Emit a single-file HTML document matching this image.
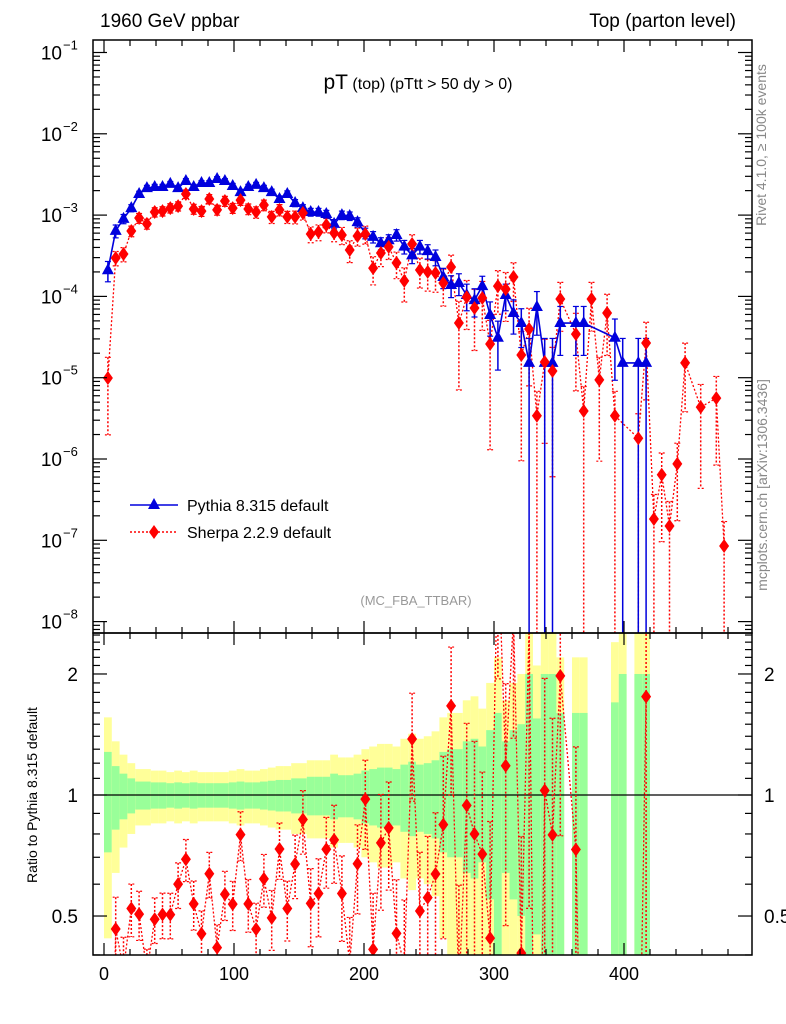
<!DOCTYPE html>
<html><head><meta charset="utf-8">
<style>
html,body{margin:0;padding:0;background:#fff;overflow:hidden;width:786px;height:1024px;}
svg{display:block;font-family:"Liberation Sans",Arial,sans-serif;}
</style></head>
<body>
<svg id="chart" width="786" height="1024" viewBox="0 0 786 1024" xmlns="http://www.w3.org/2000/svg">
<defs>
<clipPath id="cm"><rect x="93" y="40" width="659" height="593"/></clipPath>
<clipPath id="cr"><rect x="93" y="633" width="659" height="322"/></clipPath>
</defs>
<text x="100" y="27" font-size="19">1960 GeV ppbar</text>
<text x="736" y="27" font-size="19" text-anchor="end">Top (parton level)</text>
<text x="418" y="89" text-anchor="middle"><tspan font-size="21">pT</tspan><tspan font-size="16"> (top) </tspan><tspan font-size="16"> (pTtt &gt; 50 dy &gt; 0)</tspan></text>
<text x="416" y="605" font-size="13" fill="#999" text-anchor="middle">(MC_FBA_TTBAR)</text>
<text transform="translate(766,145) rotate(-90)" font-size="14" fill="#888" text-anchor="middle">Rivet 4.1.0, ≥ 100k events</text>
<text transform="translate(767,485) rotate(-90)" font-size="14" fill="#888" text-anchor="middle">mcplots.cern.ch [arXiv:1306.3436]</text>
<text transform="translate(37,795) rotate(-90)" font-size="14" text-anchor="middle">Ratio to Pythia 8.315 default</text>
<g id="bands" clip-path="url(#cr)"></g>
<g id="main" clip-path="url(#cm)"></g>
<g id="ratio" clip-path="url(#cr)"></g>
<g id="axes"></g>
<g>
<line x1="130" y1="505" x2="178" y2="505" stroke="#0000dd" stroke-width="1.5"/>
<polygon points="154,498 160,509 148,509" fill="#0000dd"/>
<text x="187" y="511" font-size="16">Pythia 8.315 default</text>
<line x1="130" y1="532" x2="178" y2="532" stroke="#ff0000" stroke-width="1.5" stroke-dasharray="2,2"/>
<polygon points="154,525 159,532 154,539 149,532" fill="#ff0000"/>
<text x="187" y="538" font-size="16">Sherpa 2.2.9 default</text>
</g>
</svg>
<script>
// ---- data ----
const pythiaBins = [0,1,2,3,4,5,6,7,8,9,10,11,12,13,14,15,16,17,18,19,20,21,22,23,24,25,26,27,28,29,30,31,32,33,34,35,36,37,38,39,40,41,42,43,44,45,46,47,48,49,50,51,52,53,54,55,56,57,58,60,61,65,66,68,69];
const pythiaVals = [2.1e-4,6.4e-4,9.0e-4,1.22e-3,1.82e-3,2.15e-3,2.22e-3,2.22e-3,2.42e-3,2.15e-3,2.63e-3,2.22e-3,2.48e-3,2.48e-3,2.78e-3,2.63e-3,2.28e-3,1.92e-3,2.22e-3,2.35e-3,2.15e-3,1.92e-3,1.58e-3,1.82e-3,1.41e-3,1.22e-3,1.09e-3,1.09e-3,1.03e-3,7.8e-4,1.0e-3,9.75e-4,8.2e-4,6.0e-4,5.4e-4,4.5e-4,4.9e-4,5.7e-4,4.1e-4,3.2e-4,4.1e-4,3.6e-4,3.05e-4,1.73e-4,1.38e-4,1.46e-4,1.04e-4,9.0e-5,1.34e-4,5.9e-5,3.1e-5,1.04e-4,6.25e-5,4.7e-5,1.52e-5,7.4e-5,1.52e-5,1.52e-5,4.7e-5,4.7e-5,4.7e-5,3.1e-5,1.52e-5,1.52e-5,1.52e-5];
const pythiaErr = [0.28,0.18,0.13,0.1,0.08,0.08,0.075,0.075,0.07,0.075,0.07,0.075,0.07,0.07,0.07,0.07,0.075,0.08,0.075,0.075,0.08,0.085,0.09,0.09,0.1,0.1,0.11,0.11,0.11,0.13,0.12,0.12,0.13,0.15,0.16,0.17,0.17,0.16,0.19,0.21,0.19,0.2,0.22,0.28,0.3,0.3,0.36,0.38,0.32,0.45,0.6,0.36,0.45,0.5,1,0.55,1,1,0.6,0.6,0.6,0.7,1,1,1];
const sherpaBins = [0,1,2,3,4,5,6,7,8,9,10,11,12,13,14,15,16,17,18,19,20,21,22,23,24,25,26,27,28,29,30,31,32,33,34,35,36,37,38,39,40,41,42,43,44,45,46,47,48,49,50,51,52,53,54,55,56,57,58,60,61,62,63,64,65,68,69,70,71,72,73,74,76,78,79];
const sherpaVals = [9.9e-6,2.97e-4,3.32e-4,6.37e-4,9.2e-4,7.8e-4,1.09e-3,1.12e-3,1.22e-3,1.29e-3,1.82e-3,1.19e-3,1.12e-3,1.58e-3,1.16e-3,1.49e-3,1.22e-3,1.53e-3,1.19e-3,1.09e-3,1.33e-3,9.5e-4,1.16e-3,9.5e-4,9.5e-4,1.06e-3,5.86e-4,6.2e-4,7.55e-4,6.03e-4,5.69e-4,3.72e-4,5.53e-4,5.86e-4,2.23e-4,3.42e-4,4.06e-4,2.58e-4,1.55e-4,4.41e-4,2.11e-4,2.0e-4,1.94e-4,1.46e-4,2.3e-4,4.71e-5,9.8e-5,7.2e-5,9.55e-5,2.6e-5,1.34e-4,1.23e-4,1.73e-4,1.9e-5,3.97e-5,3.4e-6,1.56e-5,1.21e-5,9.3e-5,3.44e-5,3.9e-6,9.3e-5,9.4e-6,6.25e-5,3.4e-6,1.8e-6,2.67e-5,1.83e-7,6.4e-7,1.5e-7,8.7e-7,1.52e-5,4.35e-6,5.6e-6,8.5e-8];
const sherpaErr = [0.8,0.2,0.2,0.15,0.14,0.14,0.13,0.13,0.13,0.13,0.12,0.14,0.14,0.13,0.14,0.14,0.14,0.14,0.15,0.16,0.15,0.17,0.16,0.17,0.18,0.18,0.22,0.22,0.2,0.22,0.24,0.3,0.25,0.25,0.38,0.32,0.3,0.36,0.45,0.3,0.4,0.42,0.42,0.48,0.4,0.85,0.6,0.7,0.6,0.95,0.55,0.6,0.5,0.95,0.8,1,0.9,0.95,0.6,0.8,1,0.6,0.9,0.7,1,1,0.8,1,0.85,1,0.8,0.75,0.9,0.85,1];
const binWidth = 6;
const xTicks = [0,100,200,300,400];
const mainExps = [-1,-2,-3,-4,-5,-6,-7,-8];
const ratioTicks = ["0.5","1","2"];

// ---- axis functions ----
const NS = "http://www.w3.org/2000/svg";
const X = v => 104 + 1.30 * v;
const YM = v => 52.5 + 81.3 * (-1 - Math.log10(v));
const YR = r => 795 - 402 * Math.log10(r);
const MAIN_BOT = 633, RAT_TOP = 633, RAT_BOT = 955;
function mk(tag, attrs, parent) {
  const e = document.createElementNS(NS, tag);
  for (const k in attrs) e.setAttribute(k, attrs[k]);
  parent.appendChild(e);
  return e;
}
const gMain = document.getElementById('main');
const gRatio = document.getElementById('ratio');
const gBands = document.getElementById('bands');
const gAxes = document.getElementById('axes');
const cx = b => X(3 + binWidth * b);

// ratio bands
pythiaBins.forEach((b, i) => {
  const e = pythiaErr[i];
  const x0 = X(binWidth * b), x1 = X(binWidth * (b + 1));
  const yTop2 = YR(1 + 2 * e), yBot2 = (1 - 2 * e) > 0.01 ? YR(1 - 2 * e) : RAT_BOT + 5;
  const r1 = mk('rect', {x: x0, y: yTop2, width: x1 - x0, height: yBot2 - yTop2, fill: '#ffff99'}, gBands);
  
  
  const yTop1 = YR(1 + e), yBot1 = (1 - e) > 0.01 ? YR(1 - e) : RAT_BOT + 5;
  const r2 = mk('rect', {x: x0, y: yTop1, width: x1 - x0, height: yBot1 - yTop1, fill: '#99ff99'}, gBands);
  
  
});
const one = mk('line', {x1: 93, x2: 752, y1: YR(1), y2: YR(1), stroke: '#000', 'stroke-width': 1.2}, gBands);



function errBar(g, x, y, v, e, color, dashed, yfun, bottom, name) {
  const yHi = yfun(v * (1 + e));
  const yLo = (1 - e) > 0.001 ? yfun(v * (1 - e)) : bottom + 5;
  const a = {x1: x, x2: x, y1: yHi, y2: yLo, stroke: color, 'stroke-width': 1.5};
  if (dashed) a['stroke-dasharray'] = '2,2';
  const l = mk('line', a, g);
  
  
  [yHi, yLo].forEach(yy => {
    const c = {x1: x - 3, x2: x + 3, y1: yy, y2: yy, stroke: color, 'stroke-width': 1.2};
    if (dashed) c['stroke-dasharray'] = '2,2';
    const t = mk('line', c, g);
    
    
  });
}
function tri(g, x, y, color) {
  const p = mk('polygon', {points: `${x},${y-7} ${x+6},${y+4} ${x-6},${y+4}`, fill: color}, g);
  
  
}
function dia(g, x, y, color, name) {
  const p = mk('polygon', {points: `${x},${y-7} ${x+5},${y} ${x},${y+7} ${x-5},${y}`, fill: color}, g);
  
  
}

// Sherpa main
let sp = sherpaBins.map((b, i) => `${cx(b)},${YM(sherpaVals[i])}`).join(' ');
const sl = mk('polyline', {points: sp, fill: 'none', stroke: '#ff0000', 'stroke-width': 1.3, 'stroke-dasharray': '2,2'}, gMain);


sherpaBins.forEach((b, i) => errBar(gMain, cx(b), YM(sherpaVals[i]), sherpaVals[i], sherpaErr[i], '#ff0000', true, YM, MAIN_BOT, 'sherpa-error-bar'));
// Pythia main
let pp = pythiaBins.map((b, i) => `${cx(b)},${YM(pythiaVals[i])}`).join(' ');
const pl = mk('polyline', {points: pp, fill: 'none', stroke: '#0000dd', 'stroke-width': 1.6}, gMain);


pythiaBins.forEach((b, i) => errBar(gMain, cx(b), YM(pythiaVals[i]), pythiaVals[i], pythiaErr[i], '#0000dd', false, YM, MAIN_BOT, 'pythia-error-bar'));
pythiaBins.forEach((b, i) => tri(gMain, cx(b), YM(pythiaVals[i]), '#0000dd'));
sherpaBins.forEach((b, i) => dia(gMain, cx(b), YM(sherpaVals[i]), '#ff0000', 'sherpa-marker'));

// Ratio
const rpts = [];
sherpaBins.forEach((b, i) => {
  const j = pythiaBins.indexOf(b);
  if (j < 0) return;
  rpts.push([b, sherpaVals[i] / pythiaVals[j], sherpaErr[i]]);
});
const rl = mk('polyline', {points: rpts.map(p => `${cx(p[0])},${YR(p[1])}`).join(' '), fill: 'none', stroke: '#ff0000', 'stroke-width': 1.3, 'stroke-dasharray': '2,2'}, gRatio);


rpts.forEach(p => errBar(gRatio, cx(p[0]), YR(p[1]), p[1], p[2], '#ff0000', true, YR, RAT_BOT, 'ratio-error-bar'));
rpts.forEach(p => dia(gRatio, cx(p[0]), YR(p[1]), '#ff0000', 'ratio-sherpa-marker'));

// Frames
[[93, 40, 659, 593, 'main-frame'], [93, 633, 659, 322, 'ratio-frame']].forEach(f => {
  const r = mk('rect', {x: f[0], y: f[1], width: f[2], height: f[3], fill: 'none', stroke: '#000', 'stroke-width': 1.5}, gAxes);
  
  
});
function tick(x1, y1, x2, y2) {
  const t = mk('line', {x1, y1, x2, y2, stroke: '#000', 'stroke-width': 1.2}, gAxes);
  
  
}
// x ticks
for (let v = 0; v <= 480; v += 20) {
  const x = X(v), big = v % 100 === 0, L = big ? 12 : 6;
  [[40, 1], [633, -1], [633, 1], [955, -1]].forEach(([y, d]) => tick(x, y, x, y + d * L));
}
xTicks.forEach(v => {
  const t = mk('text', {x: X(v), y: 980, 'font-size': 18, 'text-anchor': 'middle'}, gAxes);
  t.textContent = v;
  
  
});
// main y ticks
for (let e = -9; e <= -1; e++) {
  for (let m = 1; m <= 9; m++) {
    const v = m * Math.pow(10, e), y = YM(v);
    if (y < 40 || y > 633) continue;
    const L = m === 1 ? 14 : 7;
    tick(93, y, 93 + L, y); tick(752, y, 752 - L, y);
  }
}
mainExps.forEach(e => {
  const y = YM(Math.pow(10, e));
  const t = mk('text', {x: 62, y: y + 7, 'font-size': 19, 'text-anchor': 'end'}, gAxes);
  t.textContent = '10';
  
  
  const s = mk('text', {x: 63, y: y - 3, 'font-size': 13}, gAxes);
  s.textContent = '\u2212' + (-e);
  
  
});
// ratio y ticks
[0.4,0.5,0.6,0.7,0.8,0.9,1,1.1,1.2,1.3,1.4,1.5,1.6,1.7,1.8,1.9,2,2.1,2.2,2.3,2.4,2.5].forEach(r => {
  const y = YR(r);
  if (y < 633 || y > 955) return;
  const L = (r === 0.5 || r === 1 || r === 2) ? 14 : 7;
  tick(93, y, 93 + L, y); tick(752, y, 752 - L, y);
});
ratioTicks.forEach(s => {
  const y = YR(parseFloat(s));
  const a = mk('text', {x: 78, y: y + 7, 'font-size': 19, 'text-anchor': 'end'}, gAxes);
  a.textContent = s;
  
  
  const b = mk('text', {x: 764, y: y + 7, 'font-size': 19}, gAxes);
  b.textContent = s;
  
  
});
</script>
</body></html>
